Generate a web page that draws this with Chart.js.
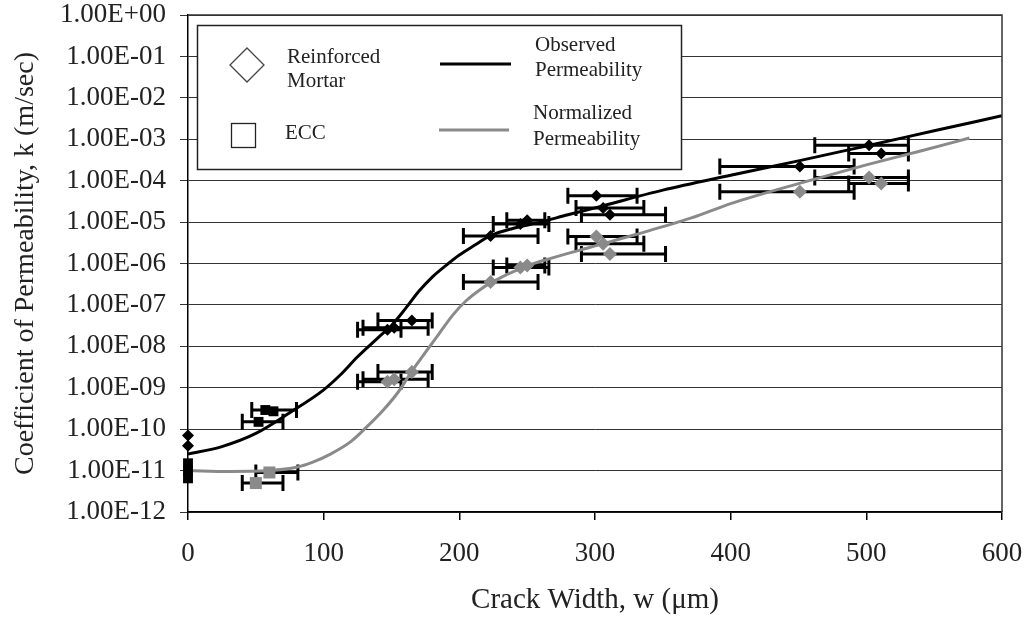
<!DOCTYPE html>
<html><head><meta charset="utf-8">
<script src="https://cdn.jsdelivr.net/npm/chart.js@4.4.0/dist/chart.umd.min.js"></script>
<style>html,body{margin:0;padding:0;background:#fff;}#wrap{width:1030px;height:622px;}</style>
</head><body><div id="wrap"><canvas id="c" width="1030" height="622"></canvas></div>
<script>
// ---- data ----
const xTickValues = [0, 100, 200, 300, 400, 500, 600];
const yTickValues = [1, 1e-1, 1e-2, 1e-3, 1e-4, 1e-5, 1e-6, 1e-7, 1e-8, 1e-9, 1e-10, 1e-11, 1e-12];

// Observed permeability curve
const obsCurveW = [0, 25, 50, 75, 100, 112, 125, 140, 150, 160, 170, 180, 190, 200, 210, 223, 240, 260, 280, 300, 350, 400, 450, 500, 550, 600];
const obsCurveK = [2.5e-11, 3.8e-11, 7.9e-11, 2.5e-10, 8.9e-10, 2.0e-9, 5.6e-9, 1.6e-8, 3.2e-8, 7.9e-8, 2.1e-7, 4.7e-7, 8.9e-7, 1.6e-6, 2.6e-6, 4.7e-6, 7.1e-6, 1.0e-5, 1.5e-5, 2.2e-5, 5.9e-5, 1.35e-4, 3.0e-4, 6.9e-4, 1.6e-3, 3.7e-3];

// Normalized permeability curve
const normCurveW = [0, 30, 60, 80, 92, 105, 120, 131, 144, 155, 165, 175, 185, 195, 205, 215, 223, 248, 268, 297, 330, 371, 400, 450, 500, 540, 576];
const normCurveK = [1.0e-11, 9.5e-12, 1.0e-11, 1.2e-11, 1.6e-11, 2.5e-11, 5.0e-11, 1.07e-10, 2.9e-10, 7.9e-10, 2.5e-9, 7.1e-9, 2.0e-8, 5.6e-8, 1.26e-7, 2.3e-7, 3.4e-7, 8.3e-7, 1.35e-6, 2.5e-6, 5.0e-6, 1.26e-5, 2.8e-5, 8.5e-5, 2.4e-4, 5.2e-4, 1.07e-3];

// Reinforced mortar points
const mortarW      = [0, 0, 147, 152, 165, 223, 245, 250, 301, 306, 311, 451, 502, 511];
const mortarObsK   = [7e-11, 4e-11, 2.5e-8, 2.8e-8, 4.2e-8, 4.6e-6, 9e-6, 1.1e-5, 4.3e-5, 2.2e-5, 1.5e-5, 2.2e-4, 7.2e-4, 4.5e-4];
const mortarNormK  = [null, null, 1.4e-9, 1.6e-9, 2.4e-9, 3.6e-7, 8e-7, 9e-7, 4.5e-6, 3e-6, 1.7e-6, 5.4e-5, 1.2e-4, 8.5e-5];
const mortarWLow   = [null, null, 125, 129, 140, 203, 225, 235, 280, 286, 290, 392, 462, 487];
const mortarWHigh  = [null, null, 157, 177, 180, 258, 266, 263, 331, 336, 352, 491, 531, 531];

// ECC points
const eccObsW   = [0, 0, 0, 52, 57, 63];
const eccObsK   = [1.5e-11, 1e-11, 6.5e-12, 1.5e-10, 2.9e-10, 2.7e-10];
const eccObsLow = [null, null, null, 40, 47, null];
const eccObsHigh= [null, null, null, 70, 80, null];
const eccNormW   = [50, 60];
const eccNormK   = [5e-12, 9e-12];
const eccNormLow = [40, 50];
const eccNormHigh= [70, 81];

const legendMarkerLabels = [["Reinforced", "Mortar"], ["ECC"]];
const legendLineLabels = [["Observed", "Permeability"], ["Normalized", "Permeability"]];

// ---- helpers ----
const pts = (xs, ys) => xs.map((x, i) => ({x: x, y: ys[i]})).filter(p => p.y != null);
const errSets = [
  {w: mortarW, k: mortarObsK, lo: mortarWLow, hi: mortarWHigh},
  {w: mortarW, k: mortarNormK, lo: mortarWLow, hi: mortarWHigh},
  {w: eccObsW, k: eccObsK, lo: eccObsLow, hi: eccObsHigh},
  {w: eccNormW, k: eccNormK, lo: eccNormLow, hi: eccNormHigh}
];
function fmtE(v) {
  const e = Math.round(Math.log10(v));
  return '1.00E' + (e < 0 ? '-' : '+') + String(Math.abs(e)).padStart(2, '0');
}
const FONT = '"Liberation Serif", "Times New Roman", serif';
const GRAY = '#8a8a8a';

const errorBars = {
  id: 'errorBars',
  beforeDatasetsDraw(chart) {
    const {ctx, scales: {x, y}} = chart;
    ctx.save();
    ctx.strokeStyle = '#000';
    ctx.lineWidth = 3;
    errSets.forEach(s => {
      s.w.forEach((w, i) => {
        if (s.k[i] == null || s.lo[i] == null) return;
        const py = y.getPixelForValue(s.k[i]);
        const x1 = x.getPixelForValue(s.lo[i]);
        const x2 = x.getPixelForValue(s.hi[i]);
        ctx.beginPath();
        ctx.moveTo(x1, py); ctx.lineTo(x2, py);
        ctx.moveTo(x1, py - 8); ctx.lineTo(x1, py + 8);
        ctx.moveTo(x2, py - 8); ctx.lineTo(x2, py + 8);
        ctx.stroke();
      });
    });
    ctx.restore();
  }
};

const frameAndLegend = {
  id: 'frameAndLegend',
  afterDraw(chart) {
    const {ctx, chartArea: a} = chart;
    ctx.save();
    ctx.strokeStyle = '#333';
    ctx.lineWidth = 1.5;
    ctx.beginPath();
    ctx.moveTo(a.left, a.top); ctx.lineTo(a.right, a.top); ctx.lineTo(a.right, a.bottom);
    ctx.stroke();
    ctx.fillStyle = '#fff';
    ctx.fillRect(197, 25, 484, 144);
    ctx.strokeStyle = '#222';
    ctx.lineWidth = 1.5;
    ctx.strokeRect(197.5, 25.5, 484, 144);
    ctx.strokeStyle = '#444';
    ctx.lineWidth = 1.3;
    ctx.beginPath();
    ctx.moveTo(247, 48); ctx.lineTo(264, 65); ctx.lineTo(247, 82); ctx.lineTo(230, 65); ctx.closePath();
    ctx.stroke();
    ctx.strokeStyle = '#222';
    ctx.strokeRect(231.5, 123.5, 24, 24);
    ctx.lineWidth = 3;
    ctx.strokeStyle = '#000';
    ctx.beginPath(); ctx.moveTo(440, 64); ctx.lineTo(511, 64); ctx.stroke();
    ctx.strokeStyle = GRAY;
    ctx.beginPath(); ctx.moveTo(439, 130); ctx.lineTo(509, 130); ctx.stroke();
    ctx.fillStyle = '#222';
    ctx.font = '21px ' + FONT;
    ctx.textBaseline = 'middle';
    ctx.textAlign = 'left';
    ctx.fillText(legendMarkerLabels[0][0], 287, 57);
    ctx.fillText(legendMarkerLabels[0][1], 287, 81);
    ctx.fillText(legendMarkerLabels[1][0], 285, 133);
    ctx.fillText(legendLineLabels[0][0], 535, 45);
    ctx.fillText(legendLineLabels[0][1], 535, 70);
    ctx.fillText(legendLineLabels[1][0], 533, 113);
    ctx.fillText(legendLineLabels[1][1], 533, 139);
    ctx.restore();
  }
};

new Chart(document.getElementById('c'), {
  type: 'scatter',
  data: {
    datasets: [
      {label: 'Observed Permeability', data: pts(obsCurveW, obsCurveK), showLine: true, borderColor: '#000', borderWidth: 3, pointRadius: 0, cubicInterpolationMode: 'monotone', order: 3},
      {label: 'Normalized Permeability', data: pts(normCurveW, normCurveK), showLine: true, borderColor: GRAY, borderWidth: 3, pointRadius: 0, cubicInterpolationMode: 'monotone', order: 2},
      {label: 'Mortar normalized', data: pts(mortarW, mortarNormK), pointStyle: 'rectRot', pointRadius: 7, backgroundColor: GRAY, borderColor: GRAY, borderWidth: 0, order: 1, clip: false},
      {label: 'ECC normalized', data: pts(eccNormW, eccNormK), pointStyle: 'rect', pointRadius: 8.5, backgroundColor: GRAY, borderColor: GRAY, borderWidth: 0, order: 1, clip: false},
      {label: 'Mortar observed', data: pts(mortarW, mortarObsK), pointStyle: 'rectRot', pointRadius: 6, backgroundColor: '#000', borderColor: '#000', borderWidth: 0, order: 0, clip: false},
      {label: 'ECC observed', data: pts(eccObsW, eccObsK), pointStyle: 'rect', pointRadius: 7, backgroundColor: '#000', borderColor: '#000', borderWidth: 0, order: 0, clip: false}
    ]
  },
  options: {
    responsive: false,
    devicePixelRatio: 1,
    animation: false,
    layout: {autoPadding: false, padding: {left: 0, right: 28, top: 15, bottom: 0}},
    plugins: {legend: {display: false}, tooltip: {enabled: false}},
    scales: {
      x: {
        type: 'linear', min: 0, max: 600,
        afterBuildTicks: s => { s.ticks = xTickValues.map(v => ({value: v})); },
        afterFit: s => { s.height = 110; s.paddingLeft = 0; s.paddingRight = 0; },
        grid: {drawOnChartArea: false, drawTicks: true, tickLength: 8, color: '#000', lineWidth: 1.5},
        border: {display: true, color: '#000', width: 1.5},
        ticks: {font: {family: FONT, size: 27}, color: '#222', padding: 18, maxRotation: 0},
        title: {display: true, text: 'Crack Width, w (\u03bcm)', font: {family: FONT, size: 29}, color: '#222', padding: {top: 0, bottom: 4}}
      },
      y: {
        type: 'logarithmic', min: 1e-12, max: 1,
        afterBuildTicks: s => { s.ticks = yTickValues.map(v => ({value: v})); },
        afterFit: s => { s.width = 188; s.paddingTop = 0; s.paddingBottom = 0; },
        grid: {drawOnChartArea: true, drawTicks: true, tickLength: 8, color: '#333', lineWidth: 1},
        border: {display: true, color: '#000', width: 1.5},
        ticks: {font: {family: FONT, size: 27}, color: '#222', padding: 14, callback: v => fmtE(v)},
        title: {display: true, text: 'Coefficient of Permeability, k (m/sec)', font: {family: FONT, size: 28}, color: '#222', padding: {top: 9, bottom: 0}}
      }
    }
  },
  plugins: [errorBars, frameAndLegend]
});
</script></body></html>
